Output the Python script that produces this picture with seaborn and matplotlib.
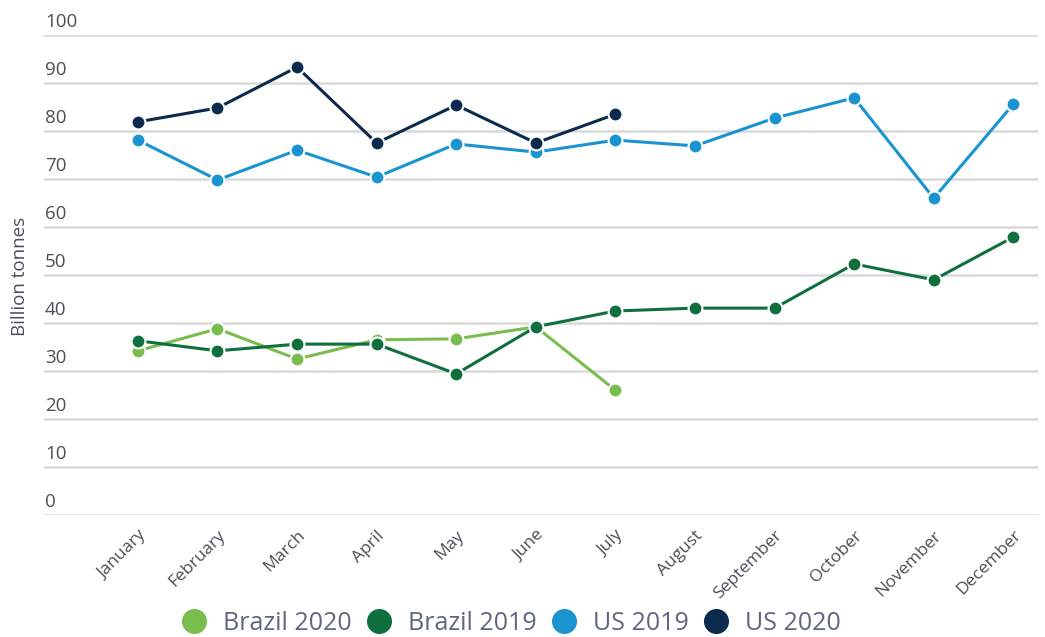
import matplotlib
matplotlib.use("Agg")
import matplotlib.pyplot as plt
import matplotlib.transforms as mtransforms
from matplotlib.lines import Line2D
import pandas as pd
import seaborn as sns

months = ["January", "February", "March", "April", "May", "June", "July",
          "August", "September", "October", "November", "December"]
brazil_2020 = [34.2, 38.8, 32.5, 36.5, 36.7, 39.2, 26.0]
brazil_2019 = [36.3, 34.2, 35.6, 35.6, 29.4, 39.2, 42.5, 43.1, 43.1, 52.3, 49.0, 57.9]
us_2019 = [78.1, 69.8, 76.0, 70.4, 77.3, 75.6, 78.1, 76.9, 82.7, 86.9, 66.0, 85.6]
us_2020 = [81.9, 84.8, 93.3, 77.5, 85.4, 77.5, 83.5]
yticks = [0, 10, 20, 30, 40, 50, 60, 70, 80, 90, 100]

series = {"Brazil 2020": brazil_2020, "Brazil 2019": brazil_2019,
          "US 2019": us_2019, "US 2020": us_2020}
colors = {"Brazil 2020": "#79bd4f", "Brazil 2019": "#0f6f3e",
          "US 2019": "#1a93d1", "US 2020": "#0b2a4d"}

rows = []
for name, vals in series.items():
    for i, v in enumerate(vals):
        rows.append({"month": i, "value": v, "series": name})
df = pd.DataFrame(rows)

sns.set_style("white")
plt.rcParams["font.family"] = ["Open Sans", "DejaVu Sans"]
text_color = "#4a4f5c"

fig = plt.figure(figsize=(10.45, 6.37), dpi=100)
ax = fig.add_axes([44 / 1045, 1 - 515 / 637, (1038 - 44) / 1045, (515 - 35) / 637])

for y in yticks:
    ax.axhline(y, color="#d9d9d9", lw=1.8, zorder=0)

sns.lineplot(data=df, x="month", y="value", hue="series", palette=colors,
             hue_order=list(series.keys()), marker="o", markersize=10,
             markeredgecolor="white", markeredgewidth=1.5, linewidth=2.2,
             estimator=None, legend=False, ax=ax, clip_on=False)

ax.set_ylim(0, 100)
ax.set_xlim(-1.18, 11.31)
ax.set_yticks([])
ax.set_xticks(range(len(months)))
ax.set_xticklabels(months, rotation=45, ha="right", rotation_mode="anchor",
                   fontsize=12.5, color=text_color)
ax.tick_params(axis="x", length=0, pad=9)
ax.set_xlabel("")
ax.set_ylabel("")
for s in ax.spines.values():
    s.set_visible(False)

off = mtransforms.offset_copy(ax.get_yaxis_transform(), fig=fig, x=1, y=4, units="dots")
for y in yticks:
    ax.text(0, y, str(y), transform=off, ha="left", va="bottom",
            fontsize=13.5, color=text_color)

fig.text(20 / 1045, 1 - 276 / 637, "Billion tonnes", rotation=90, ha="center",
         va="center", fontsize=13.5, color=text_color)

handles = [Line2D([], [], marker="o", linestyle="", markersize=17,
                  markerfacecolor=colors[n], markeredgecolor=colors[n]) for n in series]
fig.legend(handles, list(series.keys()), loc="center", ncol=4,
           bbox_to_anchor=(0.489, 1 - 623 / 637), frameon=False, fontsize=18,
           labelcolor="#5f6780", handletextpad=0.65, columnspacing=0.6,
           handlelength=1.0)

fig.savefig("out.png", dpi=100)
